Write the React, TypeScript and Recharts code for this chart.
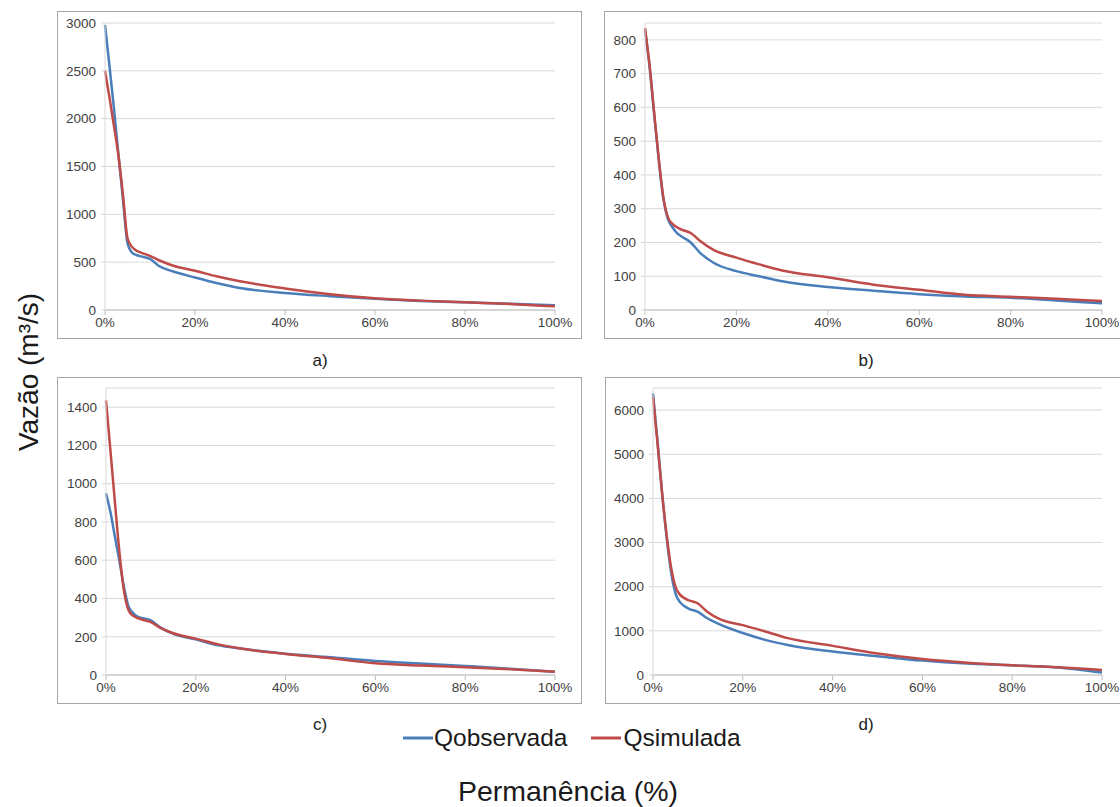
import React from 'react';
import { LineChart, Line, XAxis, YAxis, CartesianGrid } from 'recharts';

const permanencia = [0, 1, 2, 3, 4, 5, 6, 7, 8, 10, 12, 15, 20, 25, 30, 40, 50, 60, 70, 80, 90, 100];

const aObservada = [2980, 2550, 2100, 1620, 1150, 700, 600, 575, 560, 535, 460, 405, 340, 280, 230, 178, 145, 118, 95, 80, 66, 50];
const aSimulada = [2500, 2220, 1920, 1610, 1200, 750, 660, 620, 600, 565, 520, 465, 410, 350, 300, 225, 165, 122, 98, 80, 64, 38];

const bObservada = [830, 720, 580, 445, 330, 270, 245, 228, 218, 200, 170, 140, 115, 100, 85, 68, 57, 47, 40, 36, 28, 20];
const bSimulada = [835, 725, 585, 450, 335, 275, 255, 245, 238, 228, 205, 178, 155, 135, 117, 97, 75, 60, 45, 39, 33, 27];

const cObservada = [950, 850, 720, 595, 460, 360, 325, 305, 298, 285, 250, 215, 186, 155, 138, 111, 93, 73, 60, 47, 33, 17];
const cSimulada = [1435, 1170, 900, 640, 440, 340, 310, 298, 290, 276, 248, 218, 190, 160, 138, 110, 87, 61, 50, 40, 30, 17];

const dObservada = [6380, 5300, 4150, 3150, 2350, 1850, 1650, 1560, 1500, 1430, 1290, 1140, 950, 795, 680, 530, 425, 326, 258, 220, 170, 55];
const dSimulada = [6300, 5250, 4150, 3200, 2450, 2000, 1820, 1740, 1690, 1620, 1440, 1260, 1130, 985, 835, 660, 485, 364, 280, 220, 178, 114];

const xTicks = [0, 20, 40, 60, 80, 100];
const aTicks = [0, 500, 1000, 1500, 2000, 2500, 3000];
const bTicks = [0, 100, 200, 300, 400, 500, 600, 700, 800];
const cTicks = [0, 200, 400, 600, 800, 1000, 1200, 1400];
const dTicks = [0, 1000, 2000, 3000, 4000, 5000, 6000];

const seriesNames = ['Qobservada', 'Qsimulada'];
const BLUE = '#4a7ebb';
const RED = '#be4b48';
const FONT = '"Liberation Sans", Arial, sans-serif';

function build(obs: number[], sim: number[]) {
  return permanencia.map((p, i) => ({ p, obs: obs[i], sim: sim[i] }));
}

type PanelProps = {
  box: { left: number; top: number; width: number; height: number };
  plot: { left: number; right: number; top: number; bottom: number };
  data: { p: number; obs: number; sim: number }[];
  yMax: number;
  yTicks: number[];
  label: string;
  labelPos: { x: number; y: number };
};

function Panel({ box, plot, data, yMax, yTicks, label, labelPos }: PanelProps) {
  const innerL = box.left + 1;
  const innerT = box.top + 1;
  const w = box.width - 2;
  const h = box.height - 2;
  const yAxisW = plot.left - innerL;
  const mRight = innerL + w - plot.right;
  const mTop = plot.top - innerT;
  const bottomSpace = innerT + h - plot.bottom;
  const xAxisH = 24;
  const tickStyle = { fill: '#404040', fontSize: 13.5, fontFamily: FONT };
  return (
    <>
      <div
        style={{
          position: 'absolute',
          left: box.left,
          top: box.top,
          width: box.width - 2,
          height: box.height - 2,
          border: '1px solid #a6a6a6',
          background: '#fff',
        }}
      >
        <LineChart
          width={w}
          height={h}
          data={data}
          margin={{ top: mTop, right: mRight, left: 0, bottom: bottomSpace - xAxisH }}
        >
          <CartesianGrid vertical={false} stroke="#d9d9d9" strokeWidth={1} />
          <XAxis
            dataKey="p"
            type="number"
            domain={[0, 100]}
            ticks={xTicks}
            tickFormatter={(v: number) => `${v}%`}
            axisLine={{ stroke: '#bfbfbf' }}
            tickLine={{ stroke: '#bfbfbf' }}
            tickSize={5}
            tickMargin={2}
            height={xAxisH}
            tick={tickStyle}
            interval={0}
          />
          <YAxis
            type="number"
            domain={[0, yMax]}
            ticks={yTicks}
            width={yAxisW}
            axisLine={{ stroke: '#d9d9d9' }}
            tickLine={{ stroke: '#d9d9d9' }}
            tickSize={4}
            tickMargin={5}
            tick={tickStyle}
            interval={0}
            allowDataOverflow
          />
          <Line
            type="monotone"
            dataKey="obs"
            name={seriesNames[0]}
            stroke={BLUE}
            strokeWidth={2.5}
            dot={false}
            isAnimationActive={false}
          />
          <Line
            type="monotone"
            dataKey="sim"
            name={seriesNames[1]}
            stroke={RED}
            strokeWidth={2.5}
            dot={false}
            isAnimationActive={false}
          />
        </LineChart>
      </div>
      <div
        style={{
          position: 'absolute',
          left: labelPos.x - 20,
          top: labelPos.y - 11,
          width: 40,
          height: 22,
          lineHeight: '22px',
          textAlign: 'center',
          fontFamily: FONT,
          fontSize: 17,
          color: '#1a1a1a',
        }}
      >
        {label}
      </div>
    </>
  );
}

export default function App() {
  return (
    <div
      style={{
        position: 'absolute',
        left: 0,
        top: 0,
        width: 1120,
        height: 807,
        background: '#fff',
        overflow: 'hidden',
        fontFamily: FONT,
      }}
    >
      <Panel
        box={{ left: 57, top: 11, width: 525, height: 328 }}
        plot={{ left: 105, right: 555, top: 23, bottom: 310 }}
        data={build(aObservada, aSimulada)}
        yMax={3000}
        yTicks={aTicks}
        label="a)"
        labelPos={{ x: 320, y: 361 }}
      />
      <Panel
        box={{ left: 604, top: 11, width: 518, height: 328 }}
        plot={{ left: 645, right: 1102, top: 23, bottom: 310 }}
        data={build(bObservada, bSimulada)}
        yMax={850}
        yTicks={bTicks}
        label="b)"
        labelPos={{ x: 866, y: 361 }}
      />
      <Panel
        box={{ left: 57, top: 377, width: 525, height: 327 }}
        plot={{ left: 106, right: 555, top: 388, bottom: 675 }}
        data={build(cObservada, cSimulada)}
        yMax={1500}
        yTicks={cTicks}
        label="c)"
        labelPos={{ x: 320, y: 725 }}
      />
      <Panel
        box={{ left: 605, top: 377, width: 518, height: 327 }}
        plot={{ left: 653, right: 1102, top: 388, bottom: 675 }}
        data={build(dObservada, dSimulada)}
        yMax={6500}
        yTicks={dTicks}
        label="d)"
        labelPos={{ x: 866, y: 725 }}
      />

      {/* Legend */}
      <div
        style={{
          position: 'absolute',
          left: 400,
          top: 723,
          height: 30,
          display: 'flex',
          alignItems: 'center',
          fontFamily: FONT,
          fontSize: 24.5,
          color: '#1a1a1a',
          background: '#fff',
        }}
      >
        <svg width={34} height={30} style={{ display: 'block' }}>
          <line x1={3} y1={15} x2={33} y2={15} stroke={BLUE} strokeWidth={3} />
        </svg>
        <span style={{ marginRight: 22 }}>{seriesNames[0]}</span>
        <svg width={34} height={30} style={{ display: 'block' }}>
          <line x1={2} y1={15} x2={32} y2={15} stroke={RED} strokeWidth={3} />
        </svg>
        <span>{seriesNames[1]}</span>
      </div>

      {/* X axis title */}
      <div
        style={{
          position: 'absolute',
          left: 368,
          top: 774,
          width: 400,
          textAlign: 'center',
          fontFamily: FONT,
          fontSize: 28.5,
          lineHeight: '34px',
          color: '#1a1a1a',
        }}
      >
        Permanência (%)
      </div>

      {/* Y axis title */}
      <div
        style={{
          position: 'absolute',
          left: 29 - 120,
          top: 372 - 17,
          width: 240,
          height: 34,
          lineHeight: '34px',
          textAlign: 'center',
          fontFamily: FONT,
          fontSize: 28,
          color: '#1a1a1a',
          transform: 'rotate(-90deg)',
          transformOrigin: '50% 50%',
        }}
      >
        Vazão (m³/s)
      </div>
    </div>
  );
}
